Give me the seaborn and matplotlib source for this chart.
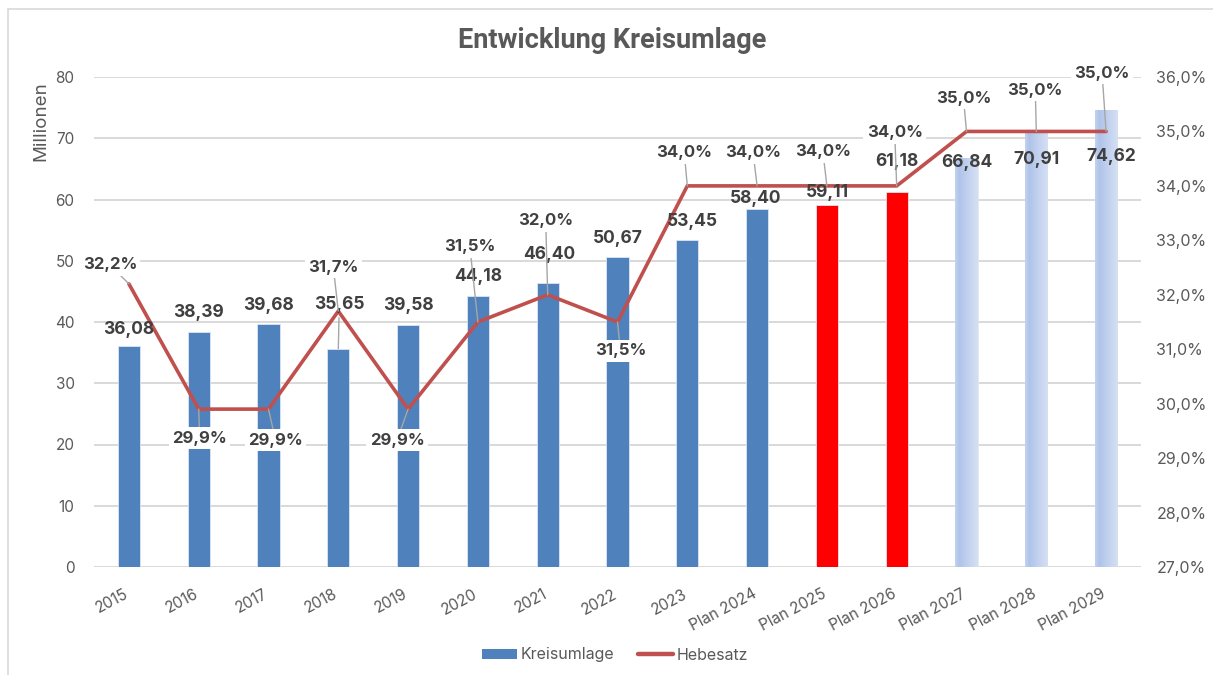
import numpy as np
import pandas as pd
import matplotlib
matplotlib.use("Agg")
import matplotlib.pyplot as plt
import matplotlib.transforms as mtransforms
import seaborn as sns
from matplotlib.patches import Rectangle, Patch
from matplotlib.lines import Line2D
from matplotlib.colors import LinearSegmentedColormap
from matplotlib.ticker import FuncFormatter

# ---- data ----
categories = ["2015", "2016", "2017", "2018", "2019", "2020", "2021", "2022", "2023",
              "Plan 2024", "Plan 2025", "Plan 2026", "Plan 2027", "Plan 2028", "Plan 2029"]
kreisumlage = [36.08, 38.39, 39.68, 35.65, 39.58, 44.18, 46.40, 50.67, 53.45,
               58.40, 59.11, 61.18, 66.84, 70.91, 74.62]
hebesatz = [32.2, 29.9, 29.9, 31.7, 29.9, 31.5, 32.0, 31.5, 34.0,
            34.0, 34.0, 34.0, 35.0, 35.0, 35.0]
left_ticks = [0, 10, 20, 30, 40, 50, 60, 70, 80]
right_ticks = [27, 28, 29, 30, 31, 32, 33, 34, 35, 36]

# ---- layout / style (pixel offsets of labels) ----
BLUE, RED, LINE = "#4F81BD", "#FF0000", "#C0504D"
bar_colors = [BLUE] * 10 + [RED, RED] + ["#B4C7E7"] * 3
gradient_bars = [12, 13, 14]
bar_lab_off = [(0, 17), (0, 19), (0, 18), (1, 44), (0, 19), (0, 20), (1, 28), (0, 18), (5, 18),
               (-1, 11), (1, 12), (0, 31), (0, -5), (0, -27), (5, -47)]
bar_lab_leader = [False, False, False, True] + [False] * 11
pct_lab_off = [(-19, 19), (1, -29), (7, -31), (-5, 44), (-11, -31), (-8, 75), (-2, 74), (3, -29),
               (-3, 33), (-4, 33), (-4, 34), (-2, 53), (-3, 33), (-1, 41), (-4, 58)]

sns.set_style("white")
plt.rcParams["font.family"] = ["Inter", "DejaVu Sans"]
TXT = "#595959"
LAB = "#404040"

fig = plt.figure(figsize=(12.13, 6.75), dpi=100)
ax = fig.add_axes([94 / 1213, 1 - 567 / 675, 1047 / 1213, 490 / 675])

df = pd.DataFrame({"cat": categories, "val": kreisumlage})
sns.barplot(data=df, x="cat", y="val", hue="cat", palette=bar_colors, legend=False,
            width=0.32, saturation=1, ax=ax, zorder=2)
for p in ax.patches:
    p.set_edgecolor("#DCE6F2")
    p.set_linewidth(0.6)

ax.set_xlim(-0.5, len(categories) - 0.5)
ax.set_ylim(0, 80)
ax.set_yticks(left_ticks)
ax.yaxis.grid(True, color="#D9D9D9", lw=1.4)
ax.set_axisbelow(True)
for s in ax.spines.values():
    s.set_visible(False)
ax.tick_params(axis="both", length=0, colors=TXT, labelsize=11)
ax.tick_params(axis="y", pad=14)
ax.set_xlabel("")
ax.set_ylabel("")
ax.tick_params(axis="x", pad=14)
shift = mtransforms.ScaledTranslation(-5 / 100, 0, fig.dpi_scale_trans)
for lab in ax.get_xticklabels():
    lab.set_rotation(28)
    lab.set_ha("right")
    lab.set_rotation_mode("anchor")
    lab.set_transform(lab.get_transform() + shift)

# gradient bars
cmap = LinearSegmentedColormap.from_list(
    "g", [(0, "#C3D2EF"), (0.18, "#AFC4EA"), (1, "#D6E0F3")])
grad = np.linspace(0, 1, 128).reshape(1, -1)
for i in gradient_bars:
    p = ax.patches[i]
    x0, w, h = p.get_x(), p.get_width(), p.get_height()
    p.set_facecolor("none")
    im = ax.imshow(grad, cmap=cmap, aspect="auto", extent=(x0, x0 + w, 0, h),
                   zorder=2, interpolation="bicubic")
    im.set_clip_path(p)
ax.set_xlim(-0.5, len(categories) - 0.5)
ax.set_ylim(0, 80)

# secondary axis line
ax2 = ax.twinx()
xs = np.arange(len(categories))
sns.lineplot(x=xs, y=hebesatz, color=LINE, lw=2.6, ax=ax2, zorder=3)
for l in ax2.lines:
    l.set_solid_joinstyle("miter")
ax2.set_ylim(27, 36)
ax2.set_yticks(right_ticks)
ax2.yaxis.set_major_formatter(FuncFormatter(lambda v, _: f"{v:.1f}%".replace(".", ",")))
for s in ax2.spines.values():
    s.set_visible(False)
ax2.tick_params(axis="y", length=0, colors=TXT, labelsize=11.5, pad=11)
ax2.set_xlim(-0.5, len(categories) - 0.5)

# bar value labels
for i, v in enumerate(kreisumlage):
    dx, dy = bar_lab_off[i]
    kw = {}
    if bar_lab_leader[i]:
        kw["arrowprops"] = dict(arrowstyle="-", color="#A6A6A6", lw=1, shrinkA=1, shrinkB=0)
    ax2.annotate(f"{v:.2f}".replace(".", ","), xy=(i, v), xycoords=ax.transData,
                 xytext=(dx, dy), textcoords="offset pixels", ha="center", va="center",
                 fontsize=12.5, fontweight="bold", color=LAB, zorder=5, **kw)

# percentage labels with leader lines
for i, v in enumerate(hebesatz):
    dx, dy = pct_lab_off[i]
    ax2.annotate(f"{v:.1f}%".replace(".", ","), xy=(i, v), xytext=(dx, dy),
                 textcoords="offset pixels", ha="center", va="center",
                 fontsize=12, fontweight="bold", color=LAB, zorder=6,
                 bbox=dict(boxstyle="square,pad=0.2", fc="white", ec="none"),
                 arrowprops=dict(arrowstyle="-", color="#A6A6A6", lw=1, shrinkA=0, shrinkB=0))

# title, y label, legend, frame
fig.text(0.505, 1 - 40 / 675, "Entwicklung Kreisumlage", ha="center", va="center",
         fontsize=19.5, fontweight="bold", color=TXT, family=["Roboto", "DejaVu Sans"])
fig.text(41 / 1213, 1 - 121 / 675, "Millionen", rotation=90, ha="center", va="center",
         fontsize=13.5, color=TXT)
handles = [Patch(facecolor=BLUE, edgecolor="none"),
           Line2D([0], [0], color=LINE, lw=3.2)]
fig.legend(handles, ["Kreisumlage", "Hebesatz"], loc="center", bbox_to_anchor=(0.507, 1 - 655 / 675),
           ncol=2, frameon=False, fontsize=11.5, labelcolor=TXT, handlelength=2.2,
           handletextpad=0.2, columnspacing=1.5, handleheight=0.6)
fig.add_artist(Rectangle((8 / 1213, -0.1), 1.2, 1 - 9 / 675 + 0.1, transform=fig.transFigure,
                         fill=False, edgecolor="#D9D9D9", lw=1.2))

fig.savefig("out.png", dpi=100, facecolor="white")
